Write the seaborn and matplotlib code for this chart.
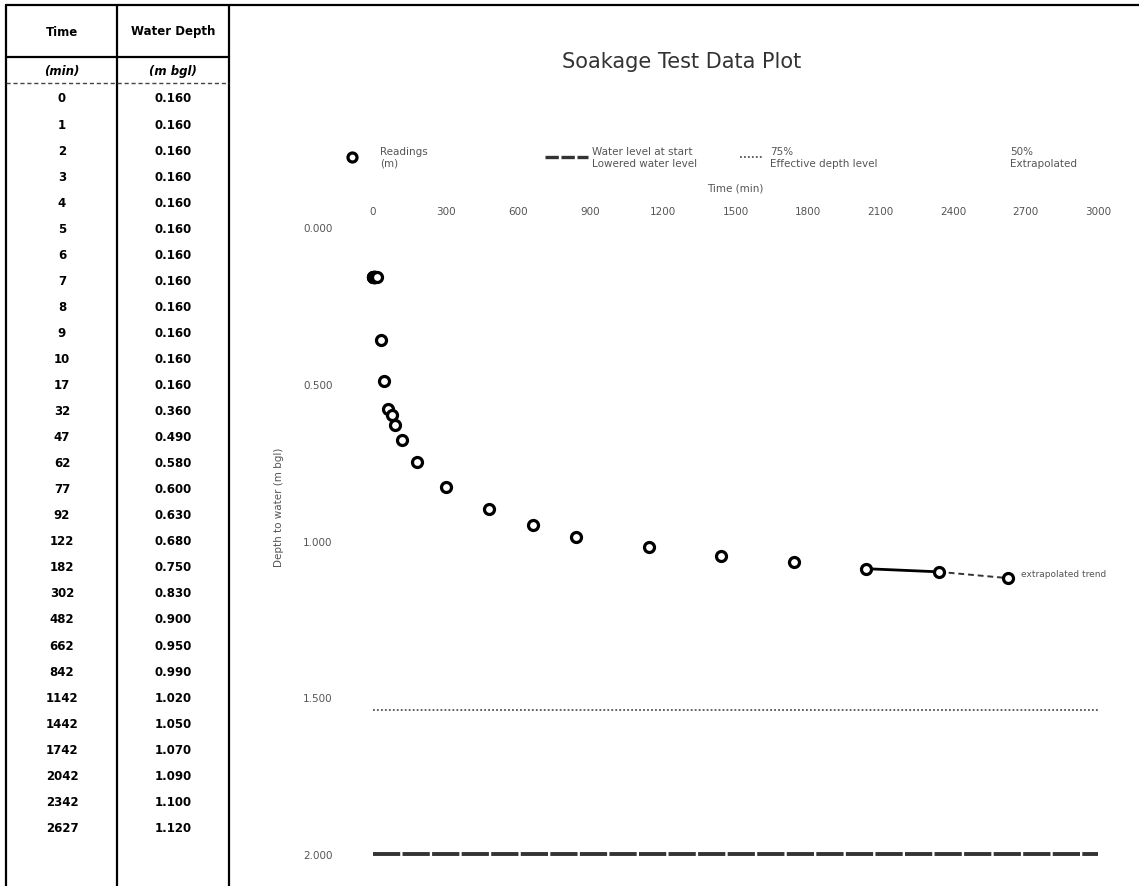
import numpy as np
import pandas as pd
import matplotlib
matplotlib.use("Agg")
import matplotlib.pyplot as plt
import seaborn as sns
from matplotlib.lines import Line2D

# ---------------- data ----------------
time_min = [0, 1, 2, 3, 4, 5, 6, 7, 8, 9, 10, 17, 32, 47, 62, 77, 92, 122, 182,
            302, 482, 662, 842, 1142, 1442, 1742, 2042, 2342, 2627]
depth_m = [0.160, 0.160, 0.160, 0.160, 0.160, 0.160, 0.160, 0.160, 0.160, 0.160,
           0.160, 0.160, 0.360, 0.490, 0.580, 0.600, 0.630, 0.680, 0.750, 0.830,
           0.900, 0.950, 0.990, 1.020, 1.050, 1.070, 1.090, 1.100, 1.120]
x_ticks = [0, 300, 600, 900, 1200, 1500, 1800, 2100, 2400, 2700, 3000]
y_ticks = [0.0, 0.5, 1.0, 1.5, 2.0]
level_25pct = 1.540      # dotted line
base_of_pit = 2.000      # dashed line
trend_times = [2042, 2342, 2627]
trend_depths = [1.090, 1.100, 1.120]
legend_labels = ["Readings\n(m)", "Water level at start\nLowered water level",
                 "75%\nEffective depth level", "50%\nExtrapolated"]

df = pd.DataFrame({"time": time_min, "depth": depth_m})

sns.set_theme(style="white")
plt.rcParams["font.family"] = ["DejaVu Sans"]

W, H = 1139, 887
fig = plt.figure(figsize=(W / 100, H / 100), dpi=100)
fig.patch.set_facecolor("white")

# ---------------- table (pixel coordinates) ----------------
ax_t = fig.add_axes([0, 0, 1, 1])
ax_t.set_xlim(0, W)
ax_t.set_ylim(H, 0)
ax_t.axis("off")
ax_t.patch.set_alpha(0)

lw_b = 1.6
ax_t.plot([6, W], [6, 6], color="black", lw=lw_b)
for xv in (6, 117, 229):
    ax_t.plot([xv, xv], [6, H], color="black", lw=lw_b)
ax_t.plot([6, 229], [58, 58], color="black", lw=lw_b)
ax_t.plot([6, 229], [84, 84], color="#444444", lw=1.0, ls=(0, (3, 2)))

tkw = dict(ha="center", va="center", fontsize=8.5, fontweight="bold", color="black")
ax_t.text(62, 32, "Time", **tkw)
ax_t.text(173, 32, "Water Depth", **tkw)
ax_t.text(62, 72, "(min)", style="italic", **tkw)
ax_t.text(173, 72, "(m bgl)", style="italic", **tkw)
for i, (t, d) in enumerate(zip(time_min, depth_m)):
    yy = 99 + i * 26.05
    ax_t.text(62, yy, f"{t}", **tkw)
    ax_t.text(173, yy, f"{d:.3f}", **tkw)

# ---------------- chart ----------------
x0, x1 = 373, 1098
y0, y1 = 228, 855
ax = fig.add_axes([x0 / W, (H - y1) / H, (x1 - x0) / W, (y1 - y0) / H])
ax.patch.set_alpha(0)

ax.axhline(base_of_pit, color="#333333", lw=2.8, ls=(0, (7, 0.6)), zorder=1, clip_on=False)
ax.axhline(level_25pct, color="#555555", lw=1.3, ls=(0, (1, 1.2)), zorder=1)

tr = pd.DataFrame({"time": trend_times, "depth": trend_depths})
sns.lineplot(data=tr.iloc[:2], x="time", y="depth", ax=ax, color="black", lw=2.0, zorder=2)
sns.lineplot(data=tr.iloc[1:], x="time", y="depth", ax=ax, color="#333333", lw=1.4,
             ls=(0, (3, 2)), zorder=2)

sns.scatterplot(data=df, x="time", y="depth", ax=ax, marker="o", s=52,
                facecolor="white", edgecolor="black", linewidth=2.3, zorder=3,
                clip_on=False, legend=False)

ax.text(2680, 1.105, "extrapolated trend", fontsize=6.5, color="#555555", va="center")

ax.set_xlim(0, 3000)
ax.set_ylim(2.0, 0.0)
ax.set_xticks(x_ticks)
ax.set_xticklabels([str(v) for v in x_ticks])
ax.set_yticks(y_ticks)
ax.set_yticklabels([f"{v:.3f}" for v in y_ticks])
ax.xaxis.tick_top()
ax.xaxis.set_label_position("top")
ax.tick_params(axis="both", length=0, labelsize=7.5, labelcolor="#555555")
ax.tick_params(axis="x", pad=8)
ax.tick_params(axis="y", pad=29)
ax.set_xlabel("Time (min)", fontsize=7.5, color="#555555", labelpad=11)
ax.set_ylabel("Depth to water (m bgl)", fontsize=7.5, color="#555555")
ax.yaxis.set_label_coords((284 - x0) / (x1 - x0), (y1 - 507) / (y1 - y0))
for s in ax.spines.values():
    s.set_visible(False)
ax.grid(False)

# legend: one entry per legend so each column sits where the reference has it
handles = [
    Line2D([], [], marker="o", ls="", mfc="white", mec="black", mew=2.3, ms=6.5),
    Line2D([], [], color="#333333", lw=2.4, ls=(0, (4, 0.8))),
    Line2D([], [], color="#555555", lw=1.3, ls=(0, (1, 1.2))),
    Line2D([], [], color="white", lw=0),
]
fs = 7.5
em = fs * 100 / 72
# (handle left px, handle right px, text left px)
slots = [(338, 366, 380), (545, 588, 592), (740, 762, 770), (985, 1005, 1010)]
for h, lab, (hl, hr, tx) in zip(handles, legend_labels, slots):
    lg = fig.legend([h], [lab], loc="center left",
                    bbox_to_anchor=(hl / W, 1 - 158 / H), bbox_transform=fig.transFigure,
                    frameon=False, fontsize=fs, handlelength=(hr - hl) / em,
                    handletextpad=(tx - hr) / em, borderpad=0, borderaxespad=0)
    for t in lg.get_texts():
        t.set_color("#555555")

# title
fig.text(682 / W, 1 - 62 / H, "Soakage Test Data Plot", ha="center", va="center",
         fontsize=15, color="#333333")

fig.savefig("out.png", dpi=100, facecolor="white")
